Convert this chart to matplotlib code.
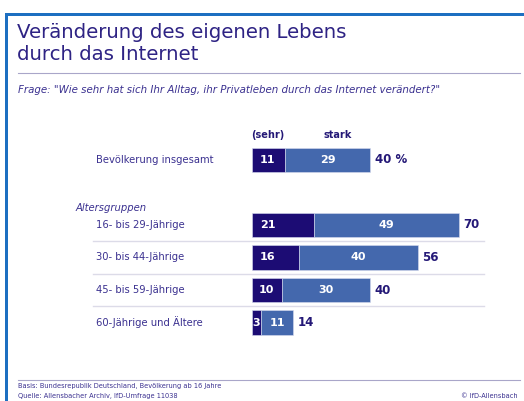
import matplotlib
matplotlib.use("Agg")
import matplotlib.pyplot as plt
from matplotlib.patches import Rectangle
from matplotlib.lines import Line2D

# data
categories = ["Bevölkerung insgesamt", "16- bis 29-Jährige", "30- bis 44-Jährige",
              "45- bis 59-Jährige", "60-Jährige und Ältere"]
row_pos = [0, 2, 3, 4, 5]
sehr_stark = [11, 21, 16, 10, 3]
stark = [29, 49, 40, 30, 11]
totals = [40, 70, 56, 40, 14]
total_labels = ["40 %", "70", "56", "40", "14"]

W, H = 524, 401
DARK = "#1c0c74"
LIGHT = "#4468ad"
TXT = "#3b3190"
NAVY = "#241877"
LINE = "#a9a6c9"

plt.rcParams['font.family'] = ['DejaVu Sans']

fig = plt.figure(figsize=(W / 100, H / 100), dpi=100)
fig.patch.set_facecolor("white")


def px(x, y):
    return x / W, 1 - y / H


def ftext(x, y, s, **kw):
    fx, fy = px(x, y)
    return fig.text(fx, fy, s, **kw)


# blue frame (top and left)
fig.add_artist(Rectangle(px(5, 16), 519 / W, 3 / H, transform=fig.transFigure,
                         color="#1d6fc1", lw=0))
fig.add_artist(Rectangle(px(5, 401), 3 / W, 385 / H, transform=fig.transFigure,
                         color="#1d6fc1", lw=0))


def hline(x0, x1, y, color=LINE, lw=0.8):
    (a, b), (c, _) = px(x0, y), px(x1, y)
    fig.add_artist(Line2D([a, c], [b, b], transform=fig.transFigure, color=color, lw=lw))


# title block
ftext(17, 33, "Veränderung des eigenen Lebens", fontsize=14.2, color="#2e2384",
      va="center", ha="left")
ftext(17, 55, "durch das Internet", fontsize=14.2, color="#2e2384",
      va="center", ha="left")
hline(18, 520, 73)
ftext(18, 90, 'Frage: "Wie sehr hat sich Ihr Alltag, ihr Privatleben durch das Internet verändert?"',
      fontsize=7.4, style="italic", color=TXT, va="center", ha="left")

# bar axes: x=0 at pixel 252, 2.96 px per percent; rows 32.5 px apart
x0_px, ppu = 252, 2.96
xmax = 80
row0_px, row_h = 160, 32.5
ylo, yhi = -0.6, 5.6
ax = fig.add_axes([x0_px / W, 1 - (row0_px + yhi * row_h) / H,
                   xmax * ppu / W, (yhi - ylo) * row_h / H])
ax.set_xlim(0, xmax)
ax.set_ylim(yhi, ylo)
ax.axis("off")

ax.barh(row_pos, sehr_stark, height=0.74, color=DARK, edgecolor="#d8dcef", lw=0.4)
ax.barh(row_pos, stark, left=sehr_stark, height=0.74, color=LIGHT, edgecolor="#d8dcef", lw=0.4)

for y, a, b, t, tl in zip(row_pos, sehr_stark, stark, totals, total_labels):
    ax.text(min(a / 2, 5.3), y, str(a), color="white", fontsize=8, fontweight="bold",
            ha="center", va="center")
    ax.text(a + b / 2, y, str(b), color="white", fontsize=8, fontweight="bold",
            ha="center", va="center")
    ax.text(t + 1.4, y, tl, color=NAVY, fontsize=8.5, fontweight="bold",
            ha="left", va="center")

ax.text(5.3, -0.78, "(sehr)", color=NAVY, fontsize=7, fontweight="bold", ha="center", va="center")
ax.text(29, -0.78, "stark", color=NAVY, fontsize=7, fontweight="bold", ha="center", va="center")

# row labels
for y, c in zip(row_pos, categories):
    ftext(96, row0_px + y * row_h, c, fontsize=7.2, color=TXT, va="center", ha="left")
ftext(76, 208, "Altersgruppen", fontsize=7.2, style="italic", color=TXT, va="center", ha="left")

# separators between age groups
for y in [2.5, 3.5, 4.5]:
    hline(93, 484, row0_px + y * row_h, color="#dcdbe8", lw=1.0)

# footer
hline(18, 520, 380)
ftext(18, 386, "Basis: Bundesrepublik Deutschland, Bevölkerung ab 16 Jahre",
      fontsize=4.8, color=TXT, va="center", ha="left")
ftext(18, 396, "Quelle: Allensbacher Archiv, IfD-Umfrage 11038",
      fontsize=4.8, color=TXT, va="center", ha="left")
ftext(518, 396, "© IfD-Allensbach", fontsize=4.8, color=TXT, va="center", ha="right")

fig.savefig("out.png", dpi=100)
